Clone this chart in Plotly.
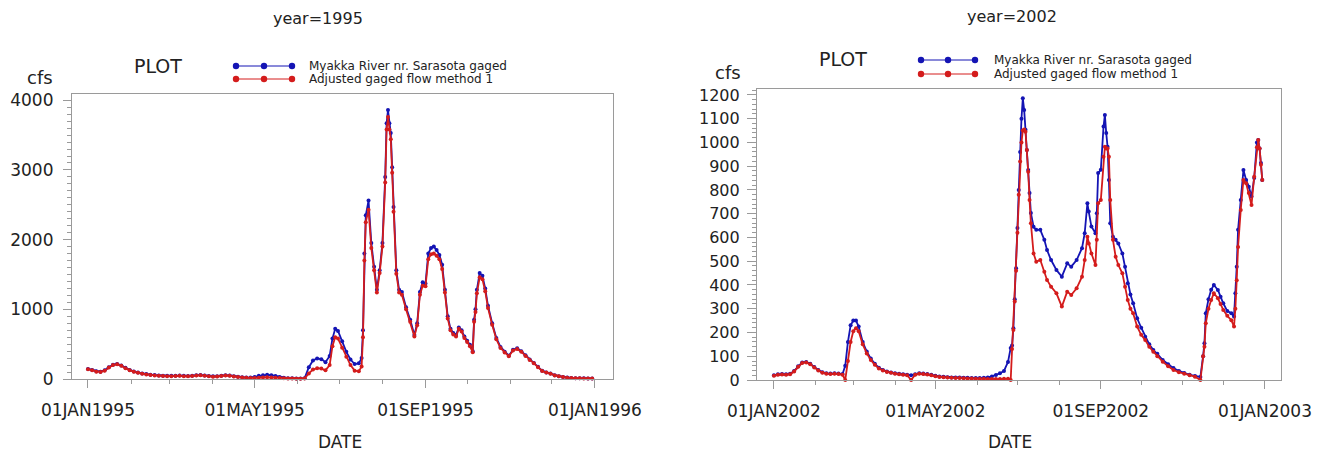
import pandas as pd
import plotly.graph_objects as go
from plotly.subplots import make_subplots

# ---------------- data (day offsets from 1 Jan of each year, flow in cfs) ----------------
DAYS_1995 = [
    0, 3, 6, 9, 12, 15, 18, 21, 24, 27,
    30, 33, 36, 39, 42, 45, 48, 51, 54, 57,
    60, 63, 66, 69, 72, 75, 78, 81, 84, 87,
    90, 93, 96, 99, 102, 105, 108, 111, 114, 117,
    120, 123, 126, 129, 132, 135, 138, 141, 144, 147,
    150, 153, 156, 159, 162, 165, 168, 171, 174, 176,
    178, 180, 183, 186, 189, 192, 195, 197, 198, 199,
    200, 202, 204, 206, 208, 210, 212, 214, 215, 216,
    217, 218, 219, 220, 222, 224, 226, 229, 232, 235,
    237, 239, 241, 243, 245, 247, 249, 251, 253, 255,
    257, 259, 261, 263, 265, 267, 269, 271, 273, 275,
    277, 278, 279, 280, 282, 284, 286, 288, 291, 294,
    297, 300, 303, 306, 309, 312, 315, 318, 321, 324,
    327, 330, 333, 336, 339, 342, 345, 348, 351, 354,
    357, 360, 363,
]
GAGED_1995 = [
    145, 130, 110, 105, 125, 170, 205, 215, 195, 160,
    130, 108, 92, 80, 70, 62, 56, 52, 48, 45,
    45, 48, 50, 45, 42, 48, 55, 58, 50, 42,
    38, 40, 48, 55, 50, 40, 32, 25, 20, 22,
    30, 45, 55, 60, 55, 42, 28, 18, 12, 10,
    8, 8, 12, 170, 265, 295, 285, 240, 330, 580,
    720, 690, 540, 390, 280, 215, 225, 300, 700, 1800,
    2350, 2560, 1950, 1610, 1280, 1560, 1950, 2900, 3670, 3860,
    3670, 3530, 3040, 2470, 1560, 1280, 1250, 1030, 850, 630,
    800, 1250, 1390, 1370, 1800, 1880, 1900, 1850, 1780, 1640,
    1280, 900, 720, 660, 630, 740, 700, 610, 550, 490,
    400, 850, 1000, 1280, 1520, 1480, 1300, 1050, 800, 590,
    460, 390, 335, 420, 440, 400, 340, 280, 230, 175,
    120, 95, 80, 55, 40, 30, 20, 15, 12, 10,
    9, 8, 8,
]
ADJUSTED_1995 = [
    140, 125, 105, 100, 120, 165, 200, 210, 190, 155,
    125, 103, 88, 76, 66, 58, 52, 48, 44, 41,
    41, 44, 46, 41, 38, 44, 50, 53, 46, 38,
    34, 36, 44, 50, 45, 36, 28, 22, 17, 15,
    14, 18, 22, 24, 22, 18, 14, 10, 8, 6,
    5, 5, 8, 80, 135, 155, 150, 125, 200, 470,
    600, 580, 450, 320, 200, 120, 110, 180, 600, 1700,
    2250, 2430, 1880, 1560, 1240, 1520, 1900, 2820, 3580, 3760,
    3580, 3440, 2960, 2400, 1510, 1240, 1210, 1000, 820, 610,
    770, 1210, 1340, 1330, 1720, 1790, 1800, 1770, 1720, 1580,
    1240, 870, 700, 640, 610, 720, 680, 590, 530, 470,
    385, 820, 960, 1230, 1460, 1430, 1260, 1020, 780, 570,
    445, 380, 325, 410, 430, 390, 330, 272, 225, 170,
    115, 92, 76, 52, 38, 28, 19, 14, 11, 9,
    8, 7, 7,
]

DAYS_2002 = [
    0, 3, 6, 9, 12, 15, 18, 21, 24, 27,
    30, 33, 36, 39, 42, 45, 48, 51, 53, 55,
    57, 59, 61, 63, 66, 69, 72, 75, 78, 81,
    84, 87, 90, 93, 96, 99, 102, 105, 108, 111,
    114, 117, 120, 123, 126, 129, 132, 135, 138, 141,
    144, 147, 150, 153, 156, 159, 162, 165, 168, 171,
    174, 176, 177, 178, 179, 180, 181, 182, 183, 184,
    185, 186, 187, 188, 189, 190, 191, 193, 195, 198,
    201, 203, 206, 210, 214, 218, 221, 225, 229, 231,
    233, 234, 236, 239, 240, 241, 243, 245, 246, 247,
    248, 249, 250, 252, 254, 256, 259, 261, 263, 265,
    267, 270, 273, 276, 279, 282, 285, 289, 293, 297,
    301, 305, 309, 313, 317, 319, 320, 321, 323, 325,
    327, 330, 332, 334, 337, 340, 342, 343, 344, 345,
    347, 349, 351, 353, 355, 357, 359, 360, 361, 362,
    363,
]
GAGED_2002 = [
    20, 24, 25, 24, 26, 38, 58, 74, 76, 68,
    55, 42, 33, 28, 27, 28, 27, 25, 60, 160,
    230, 250, 250, 225, 160, 120, 90, 68, 52, 42,
    36, 32, 28, 26, 24, 22, 20, 24, 28, 27,
    25, 22, 18, 15, 14, 12, 11, 10, 10, 9,
    9, 8, 8, 8, 9, 11, 15, 21, 28, 38,
    76, 135, 145, 218, 340, 470, 640, 800, 960, 1100,
    1186, 1137, 1053, 968, 884, 787, 703, 645, 632, 632,
    590, 547, 505, 463, 435, 491, 477, 505, 555, 618,
    744, 709, 646, 618, 702, 871, 885, 1067, 1116, 1040,
    982, 842, 660, 603, 590, 575, 533, 477, 407, 360,
    323, 260, 220, 182, 150, 126, 110, 84, 66, 50,
    38, 29, 22, 17, 13, 100, 155, 281, 340, 380,
    400, 379, 350, 323, 290, 281, 267, 365, 477, 632,
    758, 884, 842, 814, 772, 850, 1000, 1010, 975, 913,
    842,
]
ADJUSTED_2002 = [
    18, 22, 23, 22, 24, 36, 56, 72, 74, 66,
    53, 40, 31, 26, 25, 26, 25, 22, 0, 80,
    160, 205, 218, 205, 150, 112, 84, 64, 48, 40,
    34, 30, 26, 24, 22, 20, 0, 22, 26, 25,
    23, 20, 16, 13, 12, 10, 9, 8, 8, 7,
    6, 6, 5, 5, 5, 4, 4, 4, 4, 5,
    5, 0, 130, 210, 330, 460, 620, 780, 920, 1000,
    1050, 1055, 1045, 968, 877, 758, 660, 533, 498, 505,
    456, 421, 393, 365, 309, 372, 358, 386, 435, 505,
    603, 575, 533, 484, 590, 744, 758, 940, 982, 975,
    975, 940, 758, 590, 519, 484, 449, 393, 337, 300,
    281, 225, 190, 168, 140, 119, 100, 77, 58, 42,
    33, 26, 20, 14, 0, 100, 140, 239, 300, 337,
    365, 344, 320, 295, 270, 252, 225, 300, 420, 560,
    716, 842, 828, 787, 737, 856, 980, 1010, 975, 906,
    842,
]

SERIES_NAMES = ["Myakka River nr. Sarasota gaged", "Adjusted gaged flow method 1"]
PANEL_TITLES = ["year=1995", "year=2002"]
TICK_DATES_1995 = ["1995-01-01", "1995-05-01", "1995-09-01", "1996-01-01"]
TICK_TEXT_1995 = ["01JAN1995", "01MAY1995", "01SEP1995", "01JAN1996"]
TICK_DATES_2002 = ["2002-01-01", "2002-05-01", "2002-09-01", "2003-01-01"]
TICK_TEXT_2002 = ["01JAN2002", "01MAY2002", "01SEP2002", "01JAN2003"]

# ---------------- styling ----------------
PAGE_W, PAGE_H = 1332, 462
BODY = 8                      # default page margin around the plot div
W, H = PAGE_W - 2 * BODY, PAGE_H - 2 * BODY
FONT = "DejaVu Sans"
TXT = "#222222"
BLUE = "#1414b4"
RED = "#d41c1c"
FRAME = "#9a9a9a"


def px(x):
    return (x - BODY) / W


def py(y):
    return 1 - (y - BODY) / H


def to_dates(year, days):
    return pd.Timestamp(f"{year}-01-01") + pd.to_timedelta(days, unit="D")


fig = make_subplots(rows=1, cols=2)

panels = [
    (1, 1995, DAYS_1995, GAGED_1995, ADJUSTED_1995),
    (2, 2002, DAYS_2002, GAGED_2002, ADJUSTED_2002),
]
for col, year, days, gaged, adj in panels:
    d = to_dates(year, days)
    for vals, color, name in [(gaged, BLUE, SERIES_NAMES[0]), (adj, RED, SERIES_NAMES[1])]:
        fig.add_trace(
            go.Scatter(
                x=d, y=vals, mode="lines+markers", name=name, showlegend=False,
                line=dict(color=color, width=1.8),
                marker=dict(color=color, size=4),
                cliponaxis=False,
            ),
            row=1, col=col,
        )

axis_common = dict(
    showline=True, linecolor=FRAME, linewidth=1.2, mirror=True, automargin=False,
    showgrid=False, zeroline=False, ticks="outside", tickcolor=FRAME,
    tickfont=dict(family=FONT, size=17, color=TXT),
)

fig.update_layout(
    width=W, height=H, margin=dict(l=0, r=0, t=0, b=0),
    paper_bgcolor="white", plot_bgcolor="white", showlegend=False,
    xaxis=dict(
        **axis_common, domain=[px(72), px(613)], type="date",
        range=["1994-12-20 12:00", "1996-01-14 00:00"],
        tickmode="array", tickvals=TICK_DATES_1995, ticktext=TICK_TEXT_1995,
        ticklen=8, ticklabelstandoff=7,
        minor=dict(ticks="outside", dtick="M1", tick0="1995-01-01", ticklen=4, tickcolor=FRAME),
    ),
    yaxis=dict(
        **axis_common, domain=[py(379), py(94)], range=[0, 4090],
        tickvals=[0, 1000, 2000, 3000, 4000], ticklen=8, ticklabelstandoff=6,
        minor=dict(ticks="outside", dtick=100, ticklen=4, tickcolor=FRAME),
    ),
    xaxis2=dict(
        **axis_common, domain=[px(757), px(1281)], type="date",
        range=["2001-12-19 10:00", "2003-01-12 22:00"],
        tickmode="array", tickvals=TICK_DATES_2002, ticktext=TICK_TEXT_2002,
        ticklen=8, ticklabelstandoff=7,
        minor=dict(ticks="outside", dtick="M1", tick0="2002-01-01", ticklen=4, tickcolor=FRAME),
    ),
    yaxis2=dict(
        **axis_common, domain=[py(380), py(89)], range=[0, 1225],
        tickvals=list(range(0, 1300, 100)), ticklen=9, ticklabelstandoff=4,
        minor=dict(ticks="outside", dtick=20, ticklen=4, tickcolor=FRAME),
    ),
)
fig.update_yaxes(tickfont=dict(family=FONT, size=17, color=TXT), row=1, col=1)
fig.update_yaxes(tickfont=dict(family=FONT, size=16, color=TXT), row=1, col=2)


def text(x, y, s, size, anchor="center"):
    fig.add_annotation(
        x=px(x), y=py(y), xref="paper", yref="paper", text=s, showarrow=False,
        xanchor=anchor, yanchor="middle",
        font=dict(family=FONT, size=size, color=TXT),
    )


# titles, labels
text(318, 19, PANEL_TITLES[0], 16)
text(1012, 17, PANEL_TITLES[1], 16)
text(158, 66, "PLOT", 19)
text(843, 59, "PLOT", 19)
text(40, 77, "cfs", 18)
text(728, 73, "cfs", 18)
text(340, 442, "DATE", 17)
text(1010, 442, "DATE", 17)

# hand-drawn legends (three dots joined by a line)
legend_rows = [
    ((236, 264, 292), 66, BLUE, SERIES_NAMES[0], 307),
    ((236, 264, 292), 79, RED, SERIES_NAMES[1], 307),
    ((921, 948, 975), 60, BLUE, SERIES_NAMES[0], 992),
    ((921, 948, 975), 74, RED, SERIES_NAMES[1], 992),
]
for xs, y, color, name, tx in legend_rows:
    fig.add_shape(type="line", xref="paper", yref="paper",
                  x0=px(xs[0]), x1=px(xs[-1]), y0=py(y), y1=py(y),
                  line=dict(color=color, width=1))
    for xc in xs:
        r = 3.2
        fig.add_shape(type="circle", xref="paper", yref="paper",
                      x0=px(xc - r), x1=px(xc + r), y0=py(y + r), y1=py(y - r),
                      fillcolor=color, line=dict(color=color, width=0))
    text(tx, y, name, 12, anchor="left")

fig.write_html("out.html")
